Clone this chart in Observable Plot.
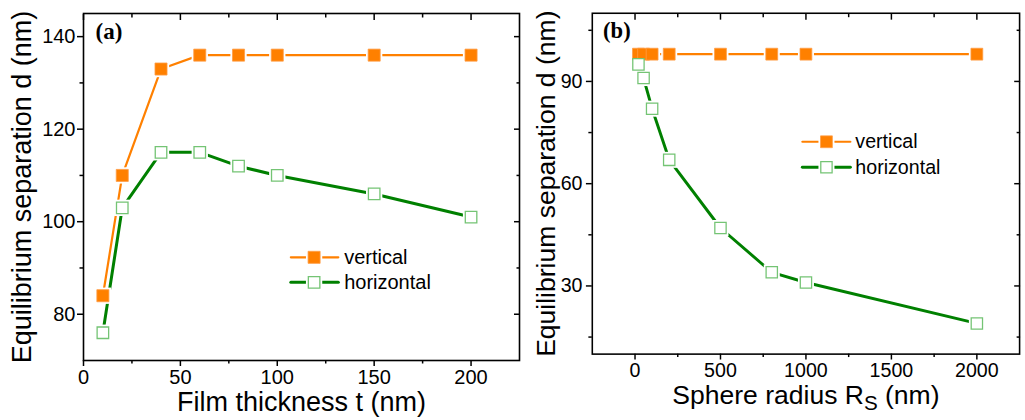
<!DOCTYPE html>
<html><head><meta charset="utf-8">
<script src="https://cdn.jsdelivr.net/npm/d3@7"></script>
<script src="https://cdn.jsdelivr.net/npm/@observablehq/plot@0.6"></script>
<style>
html,body{margin:0;padding:0;background:#fff;overflow:hidden;width:1025px;height:420px;}
#wrap{position:relative;width:1025px;height:420px;overflow:hidden;}
#a,#b{position:absolute;top:0;}
#a{left:0;} #b{left:525px;}
</style></head><body><div id="wrap"><div id="a"></div><div id="b"></div></div>
<script>
// ---- data ----
const thickness = [10, 20, 40, 60, 80, 100, 150, 200];
const verticalA = [84, 110, 133, 136, 136, 136, 136, 136];
const horizontalA = [76, 103, 115, 115, 112, 110, 106, 101];
const radius = [20, 50, 100, 200, 500, 800, 1000, 2000];
const verticalB = [98, 98, 98, 98, 98, 98, 98, 98];
const horizontalB = [95, 91, 82, 67, 47, 34, 31, 19];
const seriesNames = ["vertical", "horizontal"];
const xTicksA = [0, 50, 100, 150, 200];
const xMinorA = [25, 75, 125, 175];
const yTicksA = [80, 100, 120, 140];
const yMinorA = [90, 110, 130];
const xTicksB = [0, 500, 1000, 1500, 2000];
const xMinorB = [250, 750, 1250, 1750];
const yTicksB = [30, 60, 90];
const yMinorB = [15, 45, 75, 105];

// ---- style ----
const ORANGE = "#ff8000", GREEN = "#008000", GREEN_EDGE = "#74c474";
const FONT = "'Liberation Sans', Arial, sans-serif";

function panel(o) {
  const v = o.xs.map((x, i) => ({x, y: o.v[i]}));
  const h = o.xs.map((x, i) => ({x, y: o.h[i]}));
  const L = o.legend;
  const legV = [{x: L.x1, y: L.yV}, {x: L.x2, y: L.yV}];
  const legH = [{x: L.x1, y: L.yH}, {x: L.x2, y: L.yH}];
  const legMid = [{x: L.xm, y: L.yV, s: 0}, {x: L.xm, y: L.yH, s: 1}];
  const empty = () => "";
  const num = d => String(d);
  const tw = 1.5;
  return Plot.plot({
    width: o.width, height: 420,
    marginLeft: o.marginLeft, marginRight: 6, marginTop: 13, marginBottom: 60,
    x: {domain: o.xDomain},
    y: {domain: o.yDomain},
    style: {fontFamily: FONT, fontSize: "20px", background: "transparent", color: "black", overflow: "visible"},
    marks: [
      // axes (major + minor, mirrored inward on top/right)
      Plot.axisX(o.xTicks, {anchor: "bottom", tickSize: 6, tickPadding: 3, tickFormat: num, fontSize: 20, label: null, strokeWidth: tw}),
      Plot.axisX(o.xMinor, {anchor: "bottom", tickSize: 3.5, tickFormat: empty, label: null, strokeWidth: tw}),
      Plot.axisX(o.xTicks, {anchor: "top", tickSize: 6, dy: 6, tickFormat: empty, label: null, strokeWidth: tw}),
      Plot.axisX(o.xMinor, {anchor: "top", tickSize: 3.5, dy: 3.5, tickFormat: empty, label: null, strokeWidth: tw}),
      Plot.axisY(o.yTicks, {anchor: "left", tickSize: 6, tickPadding: o.yPad, tickFormat: num, fontSize: 20, label: null, strokeWidth: tw}),
      Plot.axisY(o.yMinor, {anchor: "left", tickSize: 3.5, tickFormat: empty, label: null, strokeWidth: tw}),
      Plot.axisY(o.yTicks, {anchor: "right", tickSize: 6, dx: -6, tickFormat: empty, label: null, strokeWidth: tw}),
      Plot.axisY(o.yMinor, {anchor: "right", tickSize: 3.5, dx: -3.5, tickFormat: empty, label: null, strokeWidth: tw}),
      Plot.frame({stroke: "black", strokeWidth: 1.6}),
      // series lines
      Plot.line(v, {x: "x", y: "y", stroke: ORANGE, strokeWidth: 2.2}),
      Plot.line(h, {x: "x", y: "y", stroke: GREEN, strokeWidth: 3}),
      // legend lines
      Plot.line(legV, {x: "x", y: "y", stroke: ORANGE, strokeWidth: 2.2}),
      Plot.line(legH, {x: "x", y: "y", stroke: GREEN, strokeWidth: 3}),
      // white halos (gaps around symbols)
      Plot.dot(v.concat(h), {x: "x", y: "y", symbol: "square", r: 9.2, fill: "white"}),
      Plot.dot(legMid, {x: "x", y: "y", symbol: "square", r: 9.2, fill: "white"}),
      // symbols
      Plot.dot(v, {x: "x", y: "y", symbol: "square", r: 6.8, fill: ORANGE, stroke: "#ff9d45", strokeWidth: 0.8}),
      Plot.dot(h, {x: "x", y: "y", symbol: "square", r: 6.5, fill: "white", stroke: GREEN_EDGE, strokeWidth: 1.3}),
      Plot.dot(legMid.filter(d => d.s === 0), {x: "x", y: "y", symbol: "square", r: 6.8, fill: ORANGE, stroke: "#ff9d45", strokeWidth: 0.8}),
      Plot.dot(legMid.filter(d => d.s === 1), {x: "x", y: "y", symbol: "square", r: 6.5, fill: "white", stroke: GREEN_EDGE, strokeWidth: 1.3}),
      // legend text
      Plot.text(legMid, {x: () => L.xt, y: "y", text: d => seriesNames[d.s], textAnchor: "start", lineAnchor: "middle", fontSize: 20, fill: "black"}),
      // panel tag
      Plot.text([o.tag], {text: d => d, frameAnchor: "top-left", dx: o.tagDx, dy: 9, textAnchor: "start", lineAnchor: "top",
        fontFamily: "'Liberation Serif', 'Times New Roman', serif", fontWeight: "bold", fontSize: 23, fill: "black"}),
      // axis titles
      Plot.text([o.xLabel], {text: d => d, frameAnchor: "bottom", dy: 42, textAnchor: "middle", lineAnchor: "middle", fontSize: 27, fill: "black"}),
      Plot.text([o.yLabel], {text: d => d, frameAnchor: "left", dx: o.yLabelDx, rotate: -90, textAnchor: "middle", lineAnchor: "middle", fontSize: 27, fill: "black"})
    ]
  });
}

const plotA = panel({
  xs: thickness, v: verticalA, h: horizontalA,
  xDomain: [0, 225], yDomain: [70, 145],
  xTicks: xTicksA, xMinor: xMinorA, yTicks: yTicksA, yMinor: yMinorA,
  xLabel: "Film thickness t (nm)", yLabel: "Equilibrium separation d (nm)", tag: "(a)",
  width: 525, marginLeft: 83, yLabelDx: -61, tagDx: 12, yPad: 2,
  legend: {x1: 107, x2: 131.5, xm: 119, xt: 134.5, yV: 92.3, yH: 86.9}
});
const plotB = panel({
  xs: radius, v: verticalB, h: horizontalB,
  xDomain: [-250, 2250], yDomain: [10, 110],
  xTicks: xTicksB, xMinor: xMinorB, yTicks: yTicksB, yMinor: yMinorB,
  xLabel: "Sphere radius RS (nm)", yLabel: "Equilibrium separation d (nm)", tag: "(b)",
  width: 509, marginLeft: 68, yLabelDx: -47, tagDx: 11, yPad: 4,
  legend: {x1: 979, x2: 1260, xm: 1120, xt: 1289, yV: 72.3, yH: 64.8}
});
document.getElementById("a").appendChild(plotA);
document.getElementById("b").appendChild(plotB);

// subscript S in "R_S"
d3.select(plotB).selectAll("text").each(function () {
  if (this.textContent === "Sphere radius RS (nm)") {
    const t = d3.select(this);
    t.text(null);
    t.append("tspan").text("Sphere radius R");
    t.append("tspan").attr("dy", 6).attr("font-size", 21).text("S");
    t.append("tspan").attr("dy", -6).text(" (nm)");
  }
});
</script>
</body></html>
